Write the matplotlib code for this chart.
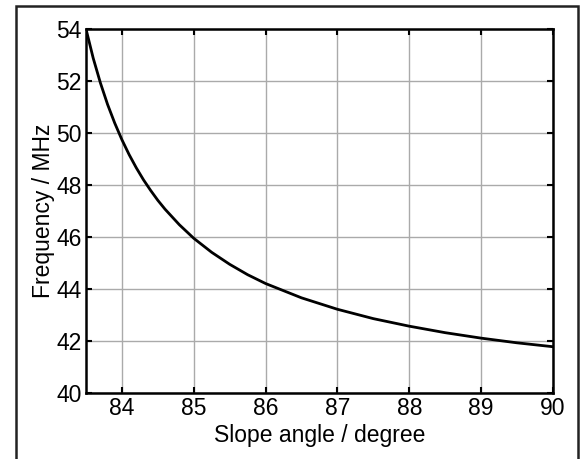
import matplotlib
matplotlib.use("Agg")
import matplotlib.pyplot as plt
from matplotlib.patches import Rectangle

plt.rcParams['font.family'] = ['Liberation Sans', 'DejaVu Sans']

# slope angle (degree) vs frequency (MHz)
angle = [83.5, 83.6, 83.7, 83.8, 83.9, 84.0, 84.1, 84.2, 84.3, 84.4, 84.5, 84.6, 84.8, 85.0,
         85.25, 85.5, 85.75, 86.0, 86.5, 87.0, 87.5, 88.0, 88.5, 89.0, 89.5, 90.0]
freq = [54.00, 52.88, 51.93, 51.10, 50.38, 49.74, 49.17, 48.66, 48.20, 47.79, 47.41, 47.07,
        46.47, 45.95, 45.41, 44.95, 44.55, 44.21, 43.66, 43.22, 42.86, 42.57, 42.32, 42.11,
        41.93, 41.78]

xticks = [84, 85, 86, 87, 88, 89, 90]
yticks = [40, 42, 44, 46, 48, 50, 52, 54]

fig = plt.figure(figsize=(5.8, 4.59), dpi=100)
ax = fig.add_axes([0.1483, 0.1438, 0.805, 0.793])

ax.plot(angle, freq, color='black', lw=2.0, zorder=3)

ax.set_xlim(83.5, 90)
ax.set_ylim(40, 54)
ax.set_xticks(xticks)
ax.set_yticks(yticks)
ax.grid(True, color='#aaaaaa', lw=1.0)
ax.tick_params(direction='in', top=True, right=True, length=4, width=1.5,
               labelsize=16.5, pad=3)
for s in ax.spines.values():
    s.set_linewidth(1.8)

ax.set_xlabel('Slope angle / degree', fontsize=16.5, labelpad=3)
ax.set_ylabel('Frequency / MHz', fontsize=16.5, labelpad=1)

# outer frame around the figure
fig.patches.append(Rectangle((16/580, -0.02), (578-16)/580, 1-6/459+0.02,
                             transform=fig.transFigure, fill=False,
                             edgecolor='#222222', lw=1.8))

fig.savefig('out.png', dpi=100)
